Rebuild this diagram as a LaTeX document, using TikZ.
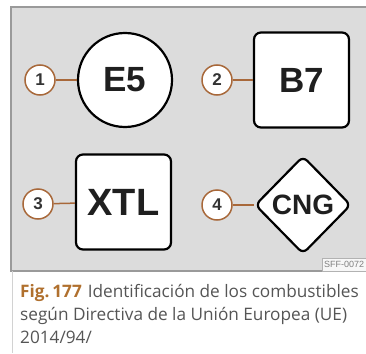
\documentclass[tikz,border=0pt]{standalone}
\usepackage{fontspec}
\setmainfont{Liberation Sans}
\newfontfamily\capfont{Open Sans}
\usetikzlibrary{shapes.geometric}
\definecolor{panelgray}{HTML}{DCDCDC}
\definecolor{panelborder}{HTML}{9A9A9A}
\definecolor{callcol}{HTML}{A8683A}
\definecolor{figcol}{HTML}{B0702E}
\definecolor{captxt}{HTML}{555555}
\begin{document}
\begin{tikzpicture}[x=1pt,y=-1pt,
  sign/.style={draw=black, line width=2.2pt, fill=white, inner sep=0pt, text=black!88},
  callout/.style={circle, draw=callcol, line width=1.5pt, fill=white, minimum size=30pt, inner sep=0pt, font=\bfseries\fontsize{17}{17}\selectfont, text=black!80},
  lead/.style={draw=callcol, line width=1.5pt},
  capline/.style={anchor=base west, inner sep=0pt, font=\capfont\fontsize{17.2}{17.2}\selectfont, text=captxt}]
\useasboundingbox (0,0) rectangle (366,353);
\fill[panelgray] (11,7) rectangle (370,271);
\draw[panelborder, line width=1.2pt] (370,7) -- (11,7) -- (11,271) -- (370,271);
% signs
\node[sign, circle, minimum size=94pt, font=\bfseries\fontsize{35}{35}\selectfont] (e5) at (125,80) {E5};
\node[sign, rectangle, rounded corners=7pt, minimum size=95pt, font=\bfseries\fontsize{35}{35}\selectfont] (b7) at (301.5,80) {B7};
\node[sign, rectangle, rounded corners=7pt, minimum size=95pt, font=\bfseries\fontsize{38}{38}\selectfont] (xtl) at (123.5,202) {XTL};
\node[sign, diamond, rounded corners=6pt, minimum width=96pt, minimum height=98pt, font=\bfseries\fontsize{28}{28}\selectfont] (cng) at (303,205) {CNG};
% callouts
\node[callout] (c1) at (40,80) {1};
\node[callout] (c2) at (217,80) {2};
\node[callout] (c3) at (38,204) {3};
\node[callout] (c4) at (217,205) {4};
\draw[lead] (c1) -- (e5);
\draw[lead] (c2) -- (b7);
\draw[lead] (c3) -- (xtl);
\draw[lead] (c4) -- (cng);
% label
\node[draw=gray!60, fill=gray!6, anchor=south west, minimum height=13pt, inner sep=2pt, font=\fontsize{9}{9}\selectfont, text=gray] (sff) at (322,271) {SFF-0072};
% caption
\draw[gray!35, line width=0.8pt] (12,271) -- (12,353);
\node[capline] (cap1) at (20,297) {{\bfseries\color{figcol}Fig.\,177}\hspace{6pt}Identificación de los combustibles};
\node[capline] (cap2) at (20,320) {según Directiva de la Unión Europea (UE)};
\node[capline] (cap3) at (20,343) {2014/94/};
\end{tikzpicture}
\end{document}
